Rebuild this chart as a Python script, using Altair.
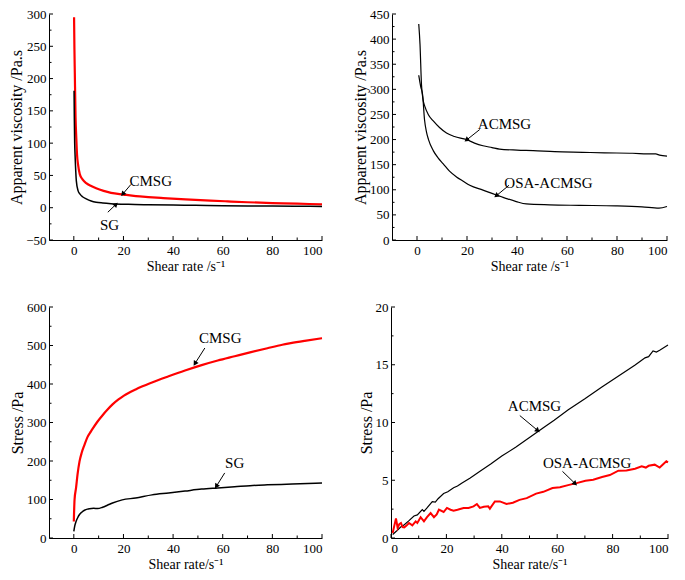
import math
import altair as alt
import pandas as pd

FONT = "Liberation Serif"
RED = "#ff0000"
BLACK = "#000000"

# ---------------- Panel (a): apparent viscosity, CMSG / SG ----------------
a_cmsg_x = [0.1, 0.25, 0.4, 0.7, 1, 1.3, 1.7, 2.4, 3.5, 5, 7, 9, 12, 15, 20, 25, 30, 36, 45, 55, 62, 70, 80, 90, 100]
a_cmsg_y = [295, 245, 209, 140, 108, 82, 67, 52, 44, 38, 33.5, 30, 26, 23, 20.4, 18, 16.5, 15, 13, 11, 9.8, 8.5, 7.2, 6.2, 5.2]
a_sg_x = [0.1, 0.2, 0.35, 0.5, 0.8, 1, 1.7, 2.5, 3.5, 5, 7, 9, 11.7, 15, 22, 30, 40, 49, 60, 70, 80, 90, 100]
a_sg_y = [181, 140, 100, 82, 55, 42, 26.5, 21, 17, 13.8, 10.5, 8.5, 7.3, 6.3, 5.2, 4.6, 4.1, 3.7, 3.2, 2.8, 2.5, 2.2, 2.0]

# ---------------- Panel (b): apparent viscosity, ACMSG / OSA-ACMSG ----------------
b_ac_x = [0.7, 1.2, 1.8, 2.4, 3.2, 4.5, 6.5, 9, 11.8, 15, 19.8, 23, 26.4, 30, 33, 40, 46.5, 55, 66.3, 75, 86.2, 92, 95.5, 97, 100]
b_ac_y = [430, 390, 309, 280, 265, 250, 237, 224, 213, 206, 200, 193, 187.6, 184, 181, 179, 178, 176, 174.6, 173.5, 172.7, 171.5, 171.3, 169, 167]
b_osa_x = [0.7, 1.5, 2.25, 3, 3.8, 4.6, 6.5, 8.5, 10.5, 13, 15.8, 18.5, 21.1, 26.4, 31.7, 35, 39.7, 43.7, 53, 65, 79.5, 90, 96.8, 100]
b_osa_y = [328, 305, 289, 240, 215, 200, 178, 163, 151.7, 137, 125.6, 117, 109, 99.3, 89.5, 84, 76.5, 71.8, 70, 69, 68, 66, 63.4, 66.7]

# ---------------- Panel (c): stress, CMSG / SG ----------------
c_cmsg_x = [0, 0.3, 0.9, 1.5, 2.3, 3.2, 4.3, 5.5, 6.9, 7.6, 9.5, 11.6, 13.5, 15.6, 18, 20.2, 24.9, 31.5, 38.2, 44.8, 51.5, 58, 64.8, 71, 78, 84, 87.4, 93, 100]
c_cmsg_y = [43, 100, 130, 165, 199, 222, 242, 262, 277, 284, 302, 319, 333, 347, 360, 370, 386, 404, 420, 435, 449, 461, 472, 482, 493, 502, 506, 512, 519]
c_sg_x = [0, 0.4, 0.9, 1.5, 2.3, 3.2, 4.3, 5.5, 6.3, 8, 9.6, 11.6, 13.5, 15.6, 19.5, 24.9, 31.5, 38.2, 44.8, 51.5, 58, 64.8, 71, 78, 88, 100]
c_sg_y = [17, 32, 43, 52, 61, 67, 72, 75, 76, 77, 76.5, 80, 85, 91, 99, 104, 112, 117, 122, 127, 130, 133, 136, 138, 140, 143]

# ---------------- Panel (d): stress, ACMSG / OSA-ACMSG ----------------
d_ac_x = [0.6, 2, 3.5, 4.8, 6.5, 8.3, 9.5, 11.3, 11.9, 13, 14.9, 16, 17, 19, 20.5, 22.6, 24, 25.5, 28.6, 32, 36, 40, 45, 50, 55, 58.9, 64, 70, 76, 82, 88, 90, 91.7, 93, 94.6, 95.8, 97, 100]
d_ac_y = [0.3, 0.6, 0.95, 1.15, 1.5, 1.9, 2.0, 2.45, 2.3, 2.6, 3.15, 3.1, 3.4, 3.85, 4.0, 4.35, 4.5, 4.75, 5.2, 5.75, 6.4, 7.1, 7.85, 8.7, 9.55, 10.2, 11.1, 12.05, 13.05, 14.0, 14.95, 15.3, 15.6, 15.7, 16.2, 16.1, 16.25, 16.7]
d_osa_x = [0.6, 1.8, 2.4, 3.0, 3.6, 4.2, 4.8, 5.5, 6.5, 7.7, 8.9, 9.5, 10.7, 11.9, 13, 14.3, 15.5, 16.5, 17.3, 19, 20.2, 21.5, 22.6, 24, 26.2, 28, 29.8, 31, 32.1, 33.5, 35.1, 35.7, 37.5, 39.3, 41.7, 44, 46.4, 49, 52.4, 55, 58.3, 61, 64.3, 67, 70.2, 73, 76.2, 79, 82.1, 85, 88.1, 90.5, 92, 93, 95.2, 97, 99.4, 100]
d_osa_y = [0.43, 1.7, 0.87, 1.2, 1.3, 0.95, 0.92, 1.05, 1.3, 1.1, 1.44, 1.3, 1.8, 1.44, 1.8, 2.16, 1.8, 2.05, 2.45, 2.25, 2.6, 2.45, 2.37, 2.45, 2.6, 2.6, 2.74, 2.94, 2.6, 2.7, 2.74, 2.54, 3.17, 3.17, 2.94, 3.05, 3.3, 3.45, 3.84, 4.0, 4.33, 4.4, 4.6, 4.75, 4.96, 5.05, 5.28, 5.45, 5.83, 5.85, 6.0, 6.2, 6.1, 6.25, 6.35, 6.1, 6.64, 6.55]

# ---------------- Axis ticks ----------------
x_ticks = [0, 20, 40, 60, 80, 100]
x_minor = [10, 30, 50, 70, 90]
a_y_ticks = [-50, 0, 50, 100, 150, 200, 250, 300]
a_y_minor = [-25, 25, 75, 125, 175, 225, 275]
b_y_ticks = [0, 50, 100, 150, 200, 250, 300, 350, 400, 450]
b_y_minor = [25, 75, 125, 175, 225, 275, 325, 375, 425]
c_y_ticks = [0, 100, 200, 300, 400, 500, 600]
c_y_minor = [50, 150, 250, 350, 450, 550]
d_y_ticks = [0, 5, 10, 15, 20]
d_y_minor = [2.5, 7.5, 12.5, 17.5]

# ---------------- Annotations: (label, text x, text y, arrow tail x, y, arrow tip x, y) ----------------
a_notes = [("CMSG", 31, 41.7, 23, 36, 19.7, 21), ("SG", 14.4, -26.8, 13.7, -7, 17, 5.2)]
b_notes = [("ACMSG", 35, 231.5, 25.1, 220, 19.8, 199), ("OSA-ACMSG", 52.6, 113.8, 36.8, 109, 31.7, 88)]
c_notes = [("CMSG", 59, 519, 52.8, 493.5, 48.8, 453), ("SG", 64.8, 195, 60.8, 169, 57.4, 134)]
d_notes = [("ACMSG", 51.8, 11.4, 46.5, 10.6, 53, 9.3), ("OSA-ACMSG", 70.8, 6.5, 61.9, 5.77, 66.5, 4.7)]


def panel(series, xdom, ydom, xticks, xminor, yticks, yminor, xtitle, ytitle, W, H, notes, interp):
    xs = alt.Scale(domain=xdom, nice=False, zero=False)
    ys = alt.Scale(domain=ydom, nice=False, zero=False)
    rows = []
    for name, xv, yv, col, sw in series:
        for i, (a, b) in enumerate(zip(xv, yv)):
            rows.append({"x": a, "y": b, "s": name, "o": i, "col": col, "sw": sw})
    df = pd.DataFrame(rows)
    axis_common = dict(ticks=False, grid=False, domainColor=BLACK, domainWidth=1,
                       labelFont=FONT, labelFontSize=13, labelColor=BLACK,
                       titleFont=FONT, titleColor=BLACK, titleFontWeight="normal")
    xaxis = alt.Axis(values=xticks, title=xtitle, titleFontSize=14,
                     labelPadding=4, titlePadding=2, **axis_common)
    yaxis = alt.Axis(values=yticks, title=ytitle, titleFontSize=16,
                     labelPadding=3, titlePadding=1, **axis_common)

    def X(field):
        return alt.X(field, scale=xs, axis=xaxis)

    def Y(field):
        return alt.Y(field, scale=ys, axis=yaxis)

    lines = alt.Chart(df).mark_line(interpolate=interp).encode(
        x=X("x:Q"), y=Y("y:Q"),
        detail="s:N",
        color=alt.Color("col:N", scale=None),
        strokeWidth=alt.StrokeWidth("sw:Q", scale=None),
        order="o:Q",
    )

    # inward ticks drawn as rules
    def xtick_layer(vals, length):
        return alt.Chart(pd.DataFrame({"x": vals})).mark_rule(color=BLACK, strokeWidth=1).encode(
            x=X("x:Q"), y=alt.value(H), y2=alt.value(H - length))

    def ytick_layer(vals, length):
        return alt.Chart(pd.DataFrame({"y": vals})).mark_rule(color=BLACK, strokeWidth=1).encode(
            y=Y("y:Q"), x=alt.value(0), x2=alt.value(length))

    sx = W / (xdom[1] - xdom[0])
    sy = H / (ydom[1] - ydom[0])
    nrows = []
    for lab, tx, ty, ax1, ay1, ax2, ay2 in notes:
        ang = math.degrees(math.atan2((ax2 - ax1) * sx, (ay2 - ay1) * sy)) % 360
        nrows.append({"lab": lab, "tx": tx, "ty": ty, "ax1": ax1, "ay1": ay1,
                      "ax2": ax2, "ay2": ay2, "ang": ang})
    ndf = pd.DataFrame(nrows)
    texts = alt.Chart(ndf).mark_text(font=FONT, fontSize=15, color=BLACK, align="center",
                                     baseline="middle").encode(
        x=X("tx:Q"), y=Y("ty:Q"), text="lab:N")
    shafts = alt.Chart(ndf).mark_rule(color=BLACK, strokeWidth=1).encode(
        x=X("ax1:Q"), y=Y("ay1:Q"), x2="ax2:Q", y2="ay2:Q")
    heads = alt.Chart(ndf).mark_point(shape="triangle-up", filled=True, size=32, color=BLACK,
                                      opacity=1).encode(
        x=X("ax2:Q"), y=Y("ay2:Q"), angle=alt.Angle("ang:Q", scale=None))
    return alt.layer(
        lines, xtick_layer(xticks, 4), xtick_layer(xminor, 2.5),
        ytick_layer(yticks, 4), ytick_layer(yminor, 2.5), shafts, heads, texts
    ).properties(width=W, height=H)


p1 = panel([("CMSG", a_cmsg_x, a_cmsg_y, RED, 2.2), ("SG", a_sg_x, a_sg_y, BLACK, 1.5)],
           [-10, 100], [-50, 300], x_ticks, x_minor, a_y_ticks, a_y_minor,
           "Shear rate /s\u207b\u00b9", "Apparent viscosity /Pa.s", 273, 226, a_notes, "monotone")
p2 = panel([("ACMSG", b_ac_x, b_ac_y, BLACK, 1.2), ("OSA-ACMSG", b_osa_x, b_osa_y, BLACK, 1.2)],
           [-10, 100], [0, 450], x_ticks, x_minor, b_y_ticks, b_y_minor,
           "Shear rate /s\u207b\u00b9", "Apparent viscosity /Pa.s", 275, 226, b_notes, "monotone")
p3 = panel([("CMSG", c_cmsg_x, c_cmsg_y, RED, 2.2), ("SG", c_sg_x, c_sg_y, BLACK, 1.5)],
           [-10, 100], [0, 600], x_ticks, x_minor, c_y_ticks, c_y_minor,
           "Shear rate/s\u207b\u00b9", "Stress /Pa", 273, 231, c_notes, "monotone")
p4 = panel([("ACMSG", d_ac_x, d_ac_y, BLACK, 1.2), ("OSA-ACMSG", d_osa_x, d_osa_y, RED, 2.0)],
           [0, 100], [0, 20], x_ticks, x_minor, d_y_ticks, d_y_minor,
           "Shear rate/s\u207b\u00b9", "Stress /Pa", 277, 231, d_notes, "linear")

top = alt.hconcat(p1, p2, spacing=25)
bottom = alt.hconcat(p3, p4, spacing=31)
chart = alt.vconcat(top, bottom, spacing=28).properties(
    padding={"left": 0, "top": 0, "right": 0, "bottom": 0}
).configure_view(stroke=None)

chart.save("out.html", embed_options={"renderer": "svg", "actions": False})
